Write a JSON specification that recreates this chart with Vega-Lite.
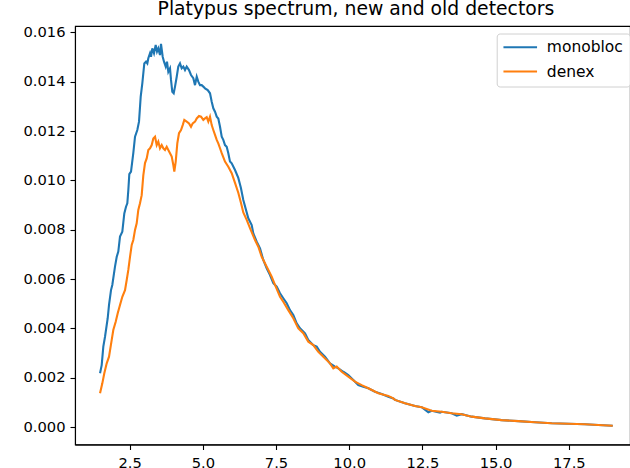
{
  "$schema": "https://vega.github.io/schema/vega-lite/v6.json",
  "width": 555,
  "height": 418.5,
  "autosize": {"type": "none"},
  "padding": {"left": 75, "top": 26, "right": 0, "bottom": 23.5},
  "title": {"text": "Platypus spectrum, new and old detectors", "fontSize": 18.8, "fontWeight": "normal", "font": "DejaVu Sans", "color": "#000", "offset": 6, "dx": 3.4},
  "config": {
    "view": {"stroke": "#000", "strokeWidth": 1.1},
    "axis": {"domainColor": "#000", "domainWidth": 1.1, "tickColor": "#000", "tickWidth": 1.1, "tickSize": 5, "labelFont": "DejaVu Sans", "labelFontSize": 14.7, "labelColor": "#000", "labelPadding": 5, "grid": false, "title": null}
  },
  "data": {"values": [
    {"x":1.49,"y":0.00218,"d":"monobloc"},{"x":1.547,"y":0.00251,"d":"monobloc"},{"x":1.602,"y":0.00326,"d":"monobloc"},{"x":1.66,"y":0.00366,"d":"monobloc"},{"x":1.752,"y":0.00441,"d":"monobloc"},{"x":1.797,"y":0.00495,"d":"monobloc"},{"x":1.865,"y":0.00555,"d":"monobloc"},{"x":1.909,"y":0.00576,"d":"monobloc"},{"x":2.001,"y":0.0065,"d":"monobloc"},{"x":2.06,"y":0.0069,"d":"monobloc"},{"x":2.114,"y":0.00711,"d":"monobloc"},{"x":2.172,"y":0.00772,"d":"monobloc"},{"x":2.251,"y":0.00792,"d":"monobloc"},{"x":2.319,"y":0.00866,"d":"monobloc"},{"x":2.377,"y":0.00893,"d":"monobloc"},{"x":2.422,"y":0.00907,"d":"monobloc"},{"x":2.456,"y":0.0096,"d":"monobloc"},{"x":2.49,"y":0.01025,"d":"monobloc"},{"x":2.548,"y":0.01035,"d":"monobloc"},{"x":2.626,"y":0.0111,"d":"monobloc"},{"x":2.685,"y":0.01177,"d":"monobloc"},{"x":2.763,"y":0.01204,"d":"monobloc"},{"x":2.821,"y":0.01238,"d":"monobloc"},{"x":2.879,"y":0.01339,"d":"monobloc"},{"x":2.934,"y":0.01393,"d":"monobloc"},{"x":3.002,"y":0.01474,"d":"monobloc"},{"x":3.06,"y":0.01481,"d":"monobloc"},{"x":3.105,"y":0.01474,"d":"monobloc"},{"x":3.139,"y":0.01495,"d":"monobloc"},{"x":3.197,"y":0.01515,"d":"monobloc"},{"x":3.231,"y":0.01501,"d":"monobloc"},{"x":3.275,"y":0.01535,"d":"monobloc"},{"x":3.333,"y":0.01515,"d":"monobloc"},{"x":3.391,"y":0.01549,"d":"monobloc"},{"x":3.436,"y":0.01522,"d":"monobloc"},{"x":3.48,"y":0.01535,"d":"monobloc"},{"x":3.538,"y":0.01508,"d":"monobloc"},{"x":3.572,"y":0.01553,"d":"monobloc"},{"x":3.63,"y":0.01501,"d":"monobloc"},{"x":3.675,"y":0.01481,"d":"monobloc"},{"x":3.733,"y":0.01461,"d":"monobloc"},{"x":3.777,"y":0.01481,"d":"monobloc"},{"x":3.822,"y":0.0144,"d":"monobloc"},{"x":3.88,"y":0.01454,"d":"monobloc"},{"x":3.914,"y":0.01407,"d":"monobloc"},{"x":3.958,"y":0.01359,"d":"monobloc"},{"x":4.006,"y":0.01353,"d":"monobloc"},{"x":4.051,"y":0.0138,"d":"monobloc"},{"x":4.109,"y":0.0142,"d":"monobloc"},{"x":4.163,"y":0.01461,"d":"monobloc"},{"x":4.221,"y":0.01474,"d":"monobloc"},{"x":4.279,"y":0.01454,"d":"monobloc"},{"x":4.334,"y":0.01461,"d":"monobloc"},{"x":4.392,"y":0.01447,"d":"monobloc"},{"x":4.45,"y":0.01461,"d":"monobloc"},{"x":4.529,"y":0.01447,"d":"monobloc"},{"x":4.597,"y":0.01427,"d":"monobloc"},{"x":4.676,"y":0.01414,"d":"monobloc"},{"x":4.734,"y":0.01386,"d":"monobloc"},{"x":4.792,"y":0.0142,"d":"monobloc"},{"x":4.846,"y":0.014,"d":"monobloc"},{"x":4.904,"y":0.01386,"d":"monobloc"},{"x":4.962,"y":0.01386,"d":"monobloc"},{"x":5.017,"y":0.0138,"d":"monobloc"},{"x":5.075,"y":0.01373,"d":"monobloc"},{"x":5.167,"y":0.01366,"d":"monobloc"},{"x":5.246,"y":0.01353,"d":"monobloc"},{"x":5.304,"y":0.01319,"d":"monobloc"},{"x":5.359,"y":0.01292,"d":"monobloc"},{"x":5.417,"y":0.01278,"d":"monobloc"},{"x":5.475,"y":0.01258,"d":"monobloc"},{"x":5.529,"y":0.01251,"d":"monobloc"},{"x":5.588,"y":0.01217,"d":"monobloc"},{"x":5.646,"y":0.01177,"d":"monobloc"},{"x":5.7,"y":0.01164,"d":"monobloc"},{"x":5.758,"y":0.01143,"d":"monobloc"},{"x":5.816,"y":0.01136,"d":"monobloc"},{"x":5.871,"y":0.0111,"d":"monobloc"},{"x":5.929,"y":0.01076,"d":"monobloc"},{"x":5.987,"y":0.01069,"d":"monobloc"},{"x":6.1,"y":0.01042,"d":"monobloc"},{"x":6.212,"y":0.0101,"d":"monobloc"},{"x":6.3,"y":0.0097,"d":"monobloc"},{"x":6.383,"y":0.0092,"d":"monobloc"},{"x":6.554,"y":0.00846,"d":"monobloc"},{"x":6.67,"y":0.00819,"d":"monobloc"},{"x":6.725,"y":0.00785,"d":"monobloc"},{"x":6.841,"y":0.00751,"d":"monobloc"},{"x":6.954,"y":0.00724,"d":"monobloc"},{"x":7.066,"y":0.00677,"d":"monobloc"},{"x":7.182,"y":0.00643,"d":"monobloc"},{"x":7.295,"y":0.00616,"d":"monobloc"},{"x":7.408,"y":0.00583,"d":"monobloc"},{"x":7.524,"y":0.00569,"d":"monobloc"},{"x":7.637,"y":0.00542,"d":"monobloc"},{"x":7.749,"y":0.00522,"d":"monobloc"},{"x":7.866,"y":0.00502,"d":"monobloc"},{"x":7.978,"y":0.00474,"d":"monobloc"},{"x":8.091,"y":0.00454,"d":"monobloc"},{"x":8.207,"y":0.0042,"d":"monobloc"},{"x":8.32,"y":0.004,"d":"monobloc"},{"x":8.491,"y":0.0038,"d":"monobloc"},{"x":8.603,"y":0.00353,"d":"monobloc"},{"x":8.774,"y":0.00332,"d":"monobloc"},{"x":8.89,"y":0.00326,"d":"monobloc"},{"x":9.003,"y":0.00305,"d":"monobloc"},{"x":9.174,"y":0.00285,"d":"monobloc"},{"x":9.344,"y":0.00258,"d":"monobloc"},{"x":9.515,"y":0.00245,"d":"monobloc"},{"x":9.628,"y":0.00238,"d":"monobloc"},{"x":9.799,"y":0.00224,"d":"monobloc"},{"x":9.969,"y":0.00211,"d":"monobloc"},{"x":10.14,"y":0.00191,"d":"monobloc"},{"x":10.311,"y":0.0017,"d":"monobloc"},{"x":10.482,"y":0.00163,"d":"monobloc"},{"x":10.652,"y":0.00157,"d":"monobloc"},{"x":10.881,"y":0.00143,"d":"monobloc"},{"x":11.11,"y":0.00134,"d":"monobloc"},{"x":11.335,"y":0.00123,"d":"monobloc"},{"x":11.506,"y":0.00116,"d":"monobloc"},{"x":11.564,"y":0.0011,"d":"monobloc"},{"x":11.906,"y":0.00096,"d":"monobloc"},{"x":12.247,"y":0.00085,"d":"monobloc"},{"x":12.476,"y":0.0008,"d":"monobloc"},{"x":12.702,"y":0.0006,"d":"monobloc"},{"x":12.818,"y":0.00066,"d":"monobloc"},{"x":13.101,"y":0.00058,"d":"monobloc"},{"x":13.159,"y":0.00062,"d":"monobloc"},{"x":13.501,"y":0.00056,"d":"monobloc"},{"x":13.672,"y":0.00046,"d":"monobloc"},{"x":13.842,"y":0.00052,"d":"monobloc"},{"x":14.184,"y":0.00042,"d":"monobloc"},{"x":14.638,"y":0.00035,"d":"monobloc"},{"x":15.208,"y":0.00028,"d":"monobloc"},{"x":15.775,"y":0.00024,"d":"monobloc"},{"x":16.346,"y":0.00019,"d":"monobloc"},{"x":16.916,"y":0.00015,"d":"monobloc"},{"x":17.483,"y":0.00013,"d":"monobloc"},{"x":18.053,"y":0.00011,"d":"monobloc"},{"x":18.508,"y":0.00008,"d":"monobloc"},{"x":19.0,"y":0.00005,"d":"monobloc"},
    {"x":1.49,"y":0.00137,"d":"denex"},{"x":1.568,"y":0.00177,"d":"denex"},{"x":1.636,"y":0.00218,"d":"denex"},{"x":1.718,"y":0.00258,"d":"denex"},{"x":1.797,"y":0.00285,"d":"denex"},{"x":1.889,"y":0.00353,"d":"denex"},{"x":1.943,"y":0.00393,"d":"denex"},{"x":2.025,"y":0.00427,"d":"denex"},{"x":2.094,"y":0.00461,"d":"denex"},{"x":2.172,"y":0.00495,"d":"denex"},{"x":2.251,"y":0.00528,"d":"denex"},{"x":2.343,"y":0.00555,"d":"denex"},{"x":2.401,"y":0.00596,"d":"denex"},{"x":2.456,"y":0.00637,"d":"denex"},{"x":2.514,"y":0.0069,"d":"denex"},{"x":2.572,"y":0.00738,"d":"denex"},{"x":2.626,"y":0.00758,"d":"denex"},{"x":2.685,"y":0.00799,"d":"denex"},{"x":2.742,"y":0.00826,"d":"denex"},{"x":2.797,"y":0.0088,"d":"denex"},{"x":2.855,"y":0.00907,"d":"denex"},{"x":2.913,"y":0.0094,"d":"denex"},{"x":2.968,"y":0.0102,"d":"denex"},{"x":3.026,"y":0.0107,"d":"denex"},{"x":3.084,"y":0.01089,"d":"denex"},{"x":3.139,"y":0.01123,"d":"denex"},{"x":3.197,"y":0.0113,"d":"denex"},{"x":3.255,"y":0.01143,"d":"denex"},{"x":3.31,"y":0.0117,"d":"denex"},{"x":3.368,"y":0.01177,"d":"denex"},{"x":3.426,"y":0.01143,"d":"denex"},{"x":3.48,"y":0.01157,"d":"denex"},{"x":3.538,"y":0.0113,"d":"denex"},{"x":3.596,"y":0.01143,"d":"denex"},{"x":3.651,"y":0.0113,"d":"denex"},{"x":3.709,"y":0.01123,"d":"denex"},{"x":3.767,"y":0.01136,"d":"denex"},{"x":3.822,"y":0.01123,"d":"denex"},{"x":3.88,"y":0.0111,"d":"denex"},{"x":3.938,"y":0.01096,"d":"denex"},{"x":3.993,"y":0.01062,"d":"denex"},{"x":4.027,"y":0.01035,"d":"denex"},{"x":4.075,"y":0.01076,"d":"denex"},{"x":4.129,"y":0.0115,"d":"denex"},{"x":4.187,"y":0.01191,"d":"denex"},{"x":4.256,"y":0.01204,"d":"denex"},{"x":4.314,"y":0.01224,"d":"denex"},{"x":4.368,"y":0.01245,"d":"denex"},{"x":4.45,"y":0.01238,"d":"denex"},{"x":4.529,"y":0.01231,"d":"denex"},{"x":4.597,"y":0.01217,"d":"denex"},{"x":4.655,"y":0.01231,"d":"denex"},{"x":4.734,"y":0.01238,"d":"denex"},{"x":4.792,"y":0.01251,"d":"denex"},{"x":4.87,"y":0.01261,"d":"denex"},{"x":4.939,"y":0.01258,"d":"denex"},{"x":5.017,"y":0.01245,"d":"denex"},{"x":5.075,"y":0.01251,"d":"denex"},{"x":5.133,"y":0.01256,"d":"denex"},{"x":5.188,"y":0.01238,"d":"denex"},{"x":5.246,"y":0.01258,"d":"denex"},{"x":5.304,"y":0.01224,"d":"denex"},{"x":5.359,"y":0.01204,"d":"denex"},{"x":5.417,"y":0.01184,"d":"denex"},{"x":5.475,"y":0.01164,"d":"denex"},{"x":5.529,"y":0.0115,"d":"denex"},{"x":5.588,"y":0.0113,"d":"denex"},{"x":5.646,"y":0.0111,"d":"denex"},{"x":5.758,"y":0.01076,"d":"denex"},{"x":5.871,"y":0.01055,"d":"denex"},{"x":5.987,"y":0.01029,"d":"denex"},{"x":6.1,"y":0.0099,"d":"denex"},{"x":6.212,"y":0.0095,"d":"denex"},{"x":6.3,"y":0.0091,"d":"denex"},{"x":6.383,"y":0.0087,"d":"denex"},{"x":6.499,"y":0.0084,"d":"denex"},{"x":6.612,"y":0.00806,"d":"denex"},{"x":6.783,"y":0.00758,"d":"denex"},{"x":6.896,"y":0.00731,"d":"denex"},{"x":7.012,"y":0.0069,"d":"denex"},{"x":7.182,"y":0.0065,"d":"denex"},{"x":7.353,"y":0.00609,"d":"denex"},{"x":7.466,"y":0.00576,"d":"denex"},{"x":7.637,"y":0.00528,"d":"denex"},{"x":7.749,"y":0.00508,"d":"denex"},{"x":7.92,"y":0.00474,"d":"denex"},{"x":8.091,"y":0.00441,"d":"denex"},{"x":8.262,"y":0.004,"d":"denex"},{"x":8.432,"y":0.0038,"d":"denex"},{"x":8.603,"y":0.00346,"d":"denex"},{"x":8.774,"y":0.00332,"d":"denex"},{"x":8.945,"y":0.00305,"d":"denex"},{"x":9.116,"y":0.00285,"d":"denex"},{"x":9.344,"y":0.00258,"d":"denex"},{"x":9.457,"y":0.00238,"d":"denex"},{"x":9.573,"y":0.00245,"d":"denex"},{"x":9.744,"y":0.00224,"d":"denex"},{"x":9.969,"y":0.00204,"d":"denex"},{"x":10.198,"y":0.00184,"d":"denex"},{"x":10.427,"y":0.0017,"d":"denex"},{"x":10.652,"y":0.00157,"d":"denex"},{"x":10.994,"y":0.00137,"d":"denex"},{"x":11.335,"y":0.00126,"d":"denex"},{"x":11.506,"y":0.00116,"d":"denex"},{"x":11.564,"y":0.0011,"d":"denex"},{"x":11.906,"y":0.00096,"d":"denex"},{"x":12.247,"y":0.00085,"d":"denex"},{"x":12.476,"y":0.0008,"d":"denex"},{"x":12.818,"y":0.00066,"d":"denex"},{"x":13.159,"y":0.00062,"d":"denex"},{"x":13.501,"y":0.00056,"d":"denex"},{"x":13.842,"y":0.00052,"d":"denex"},{"x":14.184,"y":0.00042,"d":"denex"},{"x":14.638,"y":0.00035,"d":"denex"},{"x":15.208,"y":0.00028,"d":"denex"},{"x":15.775,"y":0.00024,"d":"denex"},{"x":16.346,"y":0.00019,"d":"denex"},{"x":16.916,"y":0.00015,"d":"denex"},{"x":17.483,"y":0.00013,"d":"denex"},{"x":18.053,"y":0.00011,"d":"denex"},{"x":18.508,"y":0.00008,"d":"denex"},{"x":19.0,"y":0.00005,"d":"denex"}
  ]},
  "mark": {"type": "line", "strokeWidth": 2.1, "clip": true},
  "encoding": {
    "x": {"field": "x", "type": "quantitative", "scale": {"domain": [0.635, 19.59], "nice": false, "zero": false}, "axis": {"values": [2.5, 5, 7.5, 10, 12.5, 15, 17.5], "format": ".1f", "labelPadding": 6}},
    "y": {"field": "y", "type": "quantitative", "scale": {"domain": [-0.000709, 0.016257], "nice": false, "zero": false}, "axis": {"values": [0, 0.002, 0.004, 0.006, 0.008, 0.01, 0.012, 0.014, 0.016], "format": ".3f"}},
    "color": {"field": "d", "type": "nominal", "scale": {"domain": ["monobloc", "denex"], "range": ["#1f77b4", "#ff7f0e"]}, "legend": {"title": null, "orient": "none", "legendX": 421.7, "legendY": 7.5, "symbolType": "M-1.4,0H5.32", "symbolSize": 100, "symbolStrokeWidth": 2.1, "symbolFillColor": "transparent", "labelFontSize": 15.5, "labelFont": "DejaVu Sans", "labelColor": "#000", "labelOffset": 28.6, "padding": 6, "rowPadding": 7.3, "strokeColor": "#d0d0d0", "fillColor": "#fff", "cornerRadius": 3}}
  }
}
